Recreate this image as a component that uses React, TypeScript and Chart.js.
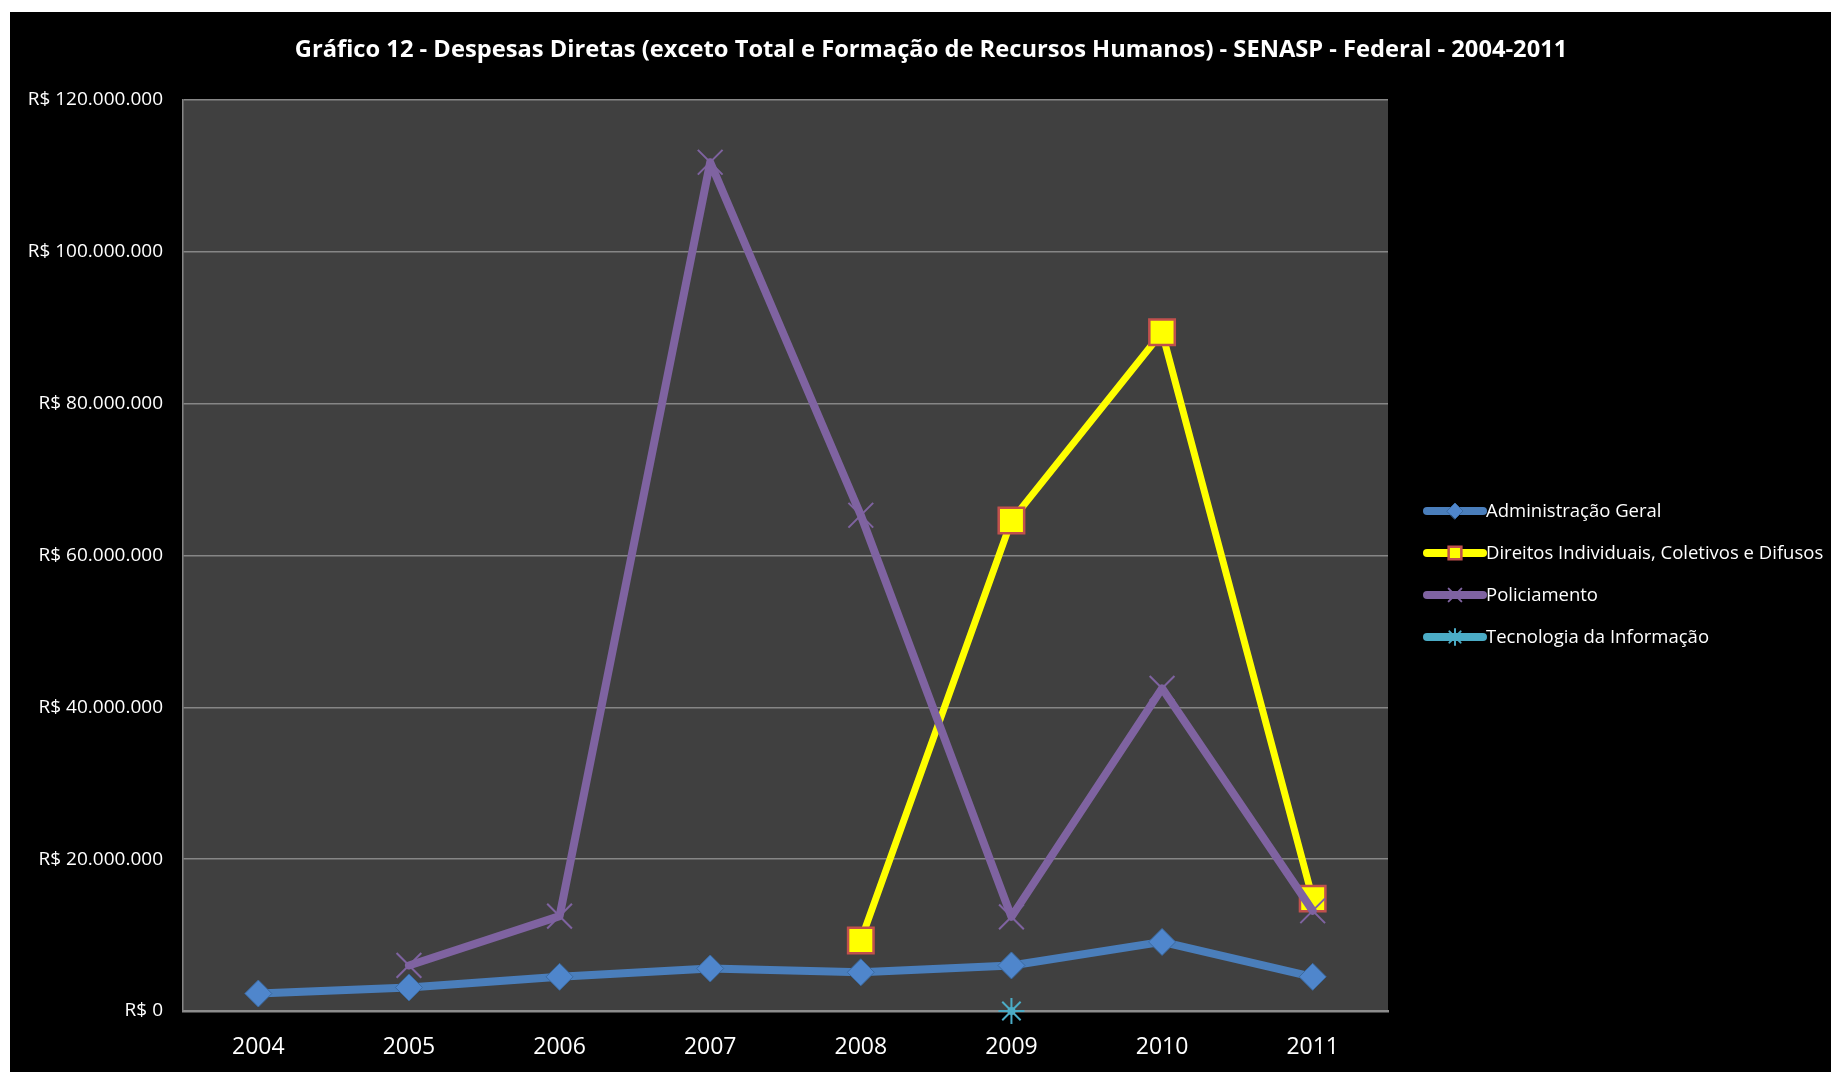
import React, { useEffect, useRef } from 'react';
import { Chart, registerables } from 'chart.js';
import { drawPoint } from 'chart.js/helpers';

Chart.register(...registerables);

// ---------- data ----------
const chartTitle =
  'Gráfico 12 - Despesas Diretas (exceto Total e Formação de Recursos Humanos) - SENASP - Federal - 2004-2011';
const years = ['2004', '2005', '2006', '2007', '2008', '2009', '2010', '2011'];
const seriesNames = [
  'Administração Geral',
  'Direitos Individuais, Coletivos e Difusos',
  'Policiamento',
  'Tecnologia da Informação',
];
const administracaoGeral = [2300000, 3100000, 4500000, 5600000, 5100000, 6000000, 9100000, 4500000];
const direitosIndividuais = [null, null, null, null, 9300000, 64600000, 89400000, 14800000];
const policiamento = [null, 6000000, 12500000, 111800000, 65300000, 12400000, 42500000, 13200000];
const tecnologiaInformacao = [null, null, null, null, null, 0, null, null];
const yMin = 0;
const yMax = 120000000;
const yStep = 20000000;

// ---------- styles ----------
const FONT = '"Open Sans", "Noto Sans", sans-serif';
const colors = {
  blue: '#4A7EBB',
  blueBorder: '#3B6AA0',
  yellow: '#FFFF00',
  red: '#C0504D',
  purple: '#7F63A1',
  teal: '#4BACC6',
};

const fmtBRL = (v: number) =>
  'R$ ' + String(Math.round(v)).replace(/\B(?=(\d{3})+(?!\d))/g, '.');

const plotBgPlugin = {
  id: 'plotBg',
  beforeDraw(chart: any) {
    const { ctx, chartArea } = chart;
    ctx.save();
    ctx.fillStyle = '#000000';
    ctx.fillRect(0, 0, chart.width, chart.height);
    ctx.fillStyle = '#404040';
    ctx.fillRect(chartArea.left, chartArea.top, chartArea.right - chartArea.left, chartArea.bottom - chartArea.top);
    ctx.restore();
  },
};

const titlePlugin = {
  id: 'customTitle',
  afterDraw(chart: any) {
    const { ctx } = chart;
    ctx.save();
    ctx.fillStyle = '#FFFFFF';
    ctx.font = `bold 23.7px ${FONT}`;
    ctx.textAlign = 'center';
    ctx.textBaseline = 'middle';
    ctx.fillText(chartTitle, 921, 38);
    ctx.restore();
  },
};

const legendPlugin = {
  id: 'customLegend',
  afterDraw(chart: any) {
    const { ctx } = chart;
    const x0 = 1417;
    const x1 = 1473;
    const top = 499;
    const gap = 42;
    chart.data.datasets.forEach((ds: any, i: number) => {
      const y = top + i * gap;
      ctx.save();
      ctx.strokeStyle = ds.legendLineColor;
      ctx.lineWidth = 8;
      ctx.lineCap = 'round';
      ctx.beginPath();
      ctx.moveTo(x0, y);
      ctx.lineTo(x1, y);
      ctx.stroke();
      ctx.fillStyle = ds.pointBackgroundColor;
      ctx.strokeStyle = ds.pointBorderColor;
      ctx.lineWidth = ds.pointBorderWidth;
      drawPoint(ctx, { pointStyle: ds.pointStyle, radius: ds.legendPointRadius, borderWidth: ds.pointBorderWidth, rotation: 0 } as any, (x0 + x1) / 2, y);
      ctx.fillStyle = '#FFFFFF';
      ctx.font = `18.5px ${FONT}`;
      ctx.textAlign = 'left';
      ctx.textBaseline = 'middle';
      ctx.fillText(ds.label, x1 + 3, y + 1);
      ctx.restore();
    });
  },
};

export default function App() {
  const canvasRef = useRef<HTMLCanvasElement | null>(null);

  useEffect(() => {
    if (!canvasRef.current) return;
    const chart = new Chart(canvasRef.current, {
      type: 'line',
      data: {
        labels: years,
        datasets: [
          {
            label: seriesNames[0],
            data: administracaoGeral,
            borderColor: colors.blue,
            borderWidth: 8,
            pointStyle: 'rectRot',
            pointRadius: 13.5,
            pointBackgroundColor: '#4F86CC',
            pointBorderColor: colors.blueBorder,
            pointBorderWidth: 1,
            legendLineColor: colors.blue,
            legendPointRadius: 8,
            clip: false,
            order: 3,
          } as any,
          {
            label: seriesNames[1],
            data: direitosIndividuais,
            borderColor: colors.yellow,
            borderWidth: 7,
            pointStyle: 'rect',
            pointRadius: 18,
            pointBackgroundColor: colors.yellow,
            pointBorderColor: colors.red,
            pointBorderWidth: 2.5,
            legendLineColor: colors.yellow,
            legendPointRadius: 9,
            clip: false,
            order: 2,
          } as any,
          {
            label: seriesNames[2],
            data: policiamento,
            borderColor: colors.purple,
            borderWidth: 8,
            pointStyle: 'crossRot',
            pointRadius: 17.5,
            pointBackgroundColor: colors.purple,
            pointBorderColor: colors.purple,
            pointBorderWidth: 2,
            legendLineColor: colors.purple,
            legendPointRadius: 9,
            clip: false,
            order: 1,
          } as any,
          {
            label: seriesNames[3],
            data: tecnologiaInformacao,
            borderColor: colors.teal,
            borderWidth: 8,
            pointStyle: 'star',
            pointRadius: 13,
            pointBackgroundColor: colors.teal,
            pointBorderColor: colors.teal,
            pointBorderWidth: 2,
            legendLineColor: colors.teal,
            legendPointRadius: 8,
            clip: false,
            order: 0,
          } as any,
        ],
      },
      options: {
        animation: false,
        responsive: true,
        maintainAspectRatio: false,
        layout: { padding: { top: 88, right: 443, left: 0, bottom: 0 } },
        elements: {
          line: { tension: 0, borderJoinStyle: 'round', borderCapStyle: 'round' },
        },
        plugins: {
          legend: { display: false },
          title: { display: false },
          tooltip: { enabled: false },
        },
        scales: {
          x: {
            type: 'category',
            offset: true,
            grid: { display: false, drawTicks: false },
            border: { display: true, color: '#8C8C8C', width: 2.5 },
            ticks: {
              color: '#FFFFFF',
              font: { family: FONT, size: 23 },
              padding: 23,
            },
            afterFit: (scale: any) => {
              scale.height = 61;
            },
          },
          y: {
            min: yMin,
            max: yMax,
            ticks: {
              stepSize: yStep,
              color: '#FFFFFF',
              font: { family: FONT, size: 19 },
              padding: 20,
              callback: (v: any) => fmtBRL(Number(v)),
            },
            grid: { color: '#868686', lineWidth: 1.5, drawTicks: false },
            border: { display: true, color: '#868686', width: 1.5 },
            afterFit: (scale: any) => {
              scale.width = 173;
            },
          },
        },
      },
      plugins: [plotBgPlugin, titlePlugin, legendPlugin],
    });
    return () => chart.destroy();
  }, []);

  return (
    <div
      style={{
        position: 'absolute',
        left: 10,
        top: 12,
        width: 1821,
        height: 1060,
        background: '#000000',
      }}
    >
      <canvas ref={canvasRef} />
    </div>
  );
}
